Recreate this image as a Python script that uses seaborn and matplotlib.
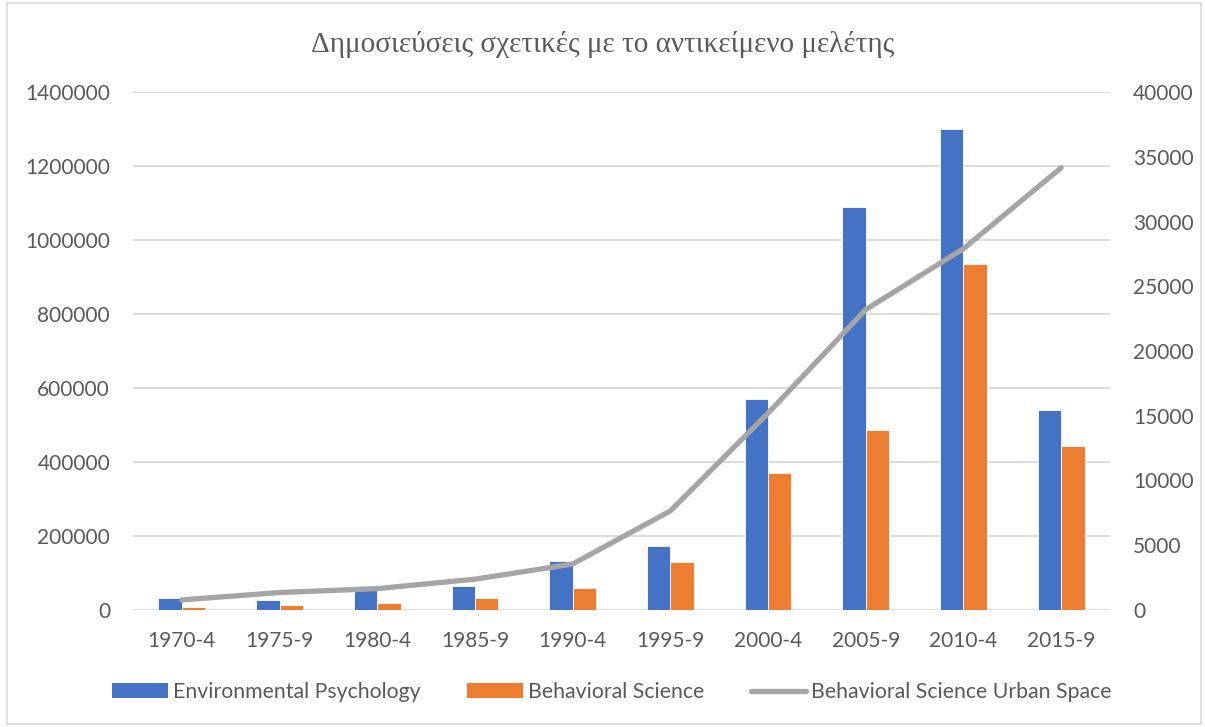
import numpy as np
import pandas as pd
import matplotlib
matplotlib.use("Agg")
import matplotlib.pyplot as plt
from matplotlib.patches import Patch, Rectangle
from matplotlib.lines import Line2D
from matplotlib.ticker import StrMethodFormatter
import seaborn as sns

# data
periods = ["1970-4", "1975-9", "1980-4", "1985-9", "1990-4",
           "1995-9", "2000-4", "2005-9", "2010-4", "2015-9"]
env_psychology = [32000, 27000, 66000, 65000, 133000,
                  174000, 571000, 1090000, 1299000, 540000]
behavioral_science = [7500, 12500, 20000, 33500, 60000,
                      129000, 370000, 486000, 934000, 442000]
behavioral_urban = [780, 1350, 1650, 2380, 3550,
                    7650, 15200, 23200, 27900, 34150]

series_names = ["Environmental Psychology", "Behavioral Science",
                "Behavioral Science Urban Space"]
title = "Δημοσιεύσεις σχετικές με το αντικείμενο μελέτης"

BLUE = "#4472C4"
ORANGE = "#ED7D31"
GRAY = "#A5A5A5"
TEXT = "#595959"
GRID = "#D9D9D9"

sns.set_theme(style="white")
plt.rcParams["font.family"] = ["Lato", "DejaVu Sans"]

df = pd.DataFrame({
    "period": periods * 2,
    "count": env_psychology + behavioral_science,
    "series": [series_names[0]] * len(periods) + [series_names[1]] * len(periods),
})

fig = plt.figure(figsize=(12.05, 7.27), dpi=100)
ax = fig.add_axes([133 / 1205, 1 - 610 / 727, 977 / 1205, 518 / 727])

sns.barplot(data=df, x="period", y="count", hue="series",
            palette=[BLUE, ORANGE], saturation=1, width=0.48, gap=0,
            edgecolor="white", linewidth=0.6, legend=False, ax=ax)

ax2 = ax.twinx()
sns.lineplot(x=np.arange(len(periods)), y=behavioral_urban, ax=ax2,
             color=GRAY, linewidth=3.8, solid_capstyle="round")

ax.set_xlim(-0.5, len(periods) - 0.5)
ax.set_ylim(0, 1400000)
ax.set_yticks(np.arange(0, 1400001, 200000))
ax.yaxis.set_major_formatter(StrMethodFormatter("{x:.0f}"))
ax2.set_ylim(0, 40000)
ax2.set_yticks(np.arange(0, 40001, 5000))
ax2.yaxis.set_major_formatter(StrMethodFormatter("{x:.0f}"))

ax.set_axisbelow(True)
ax.yaxis.grid(True, color=GRID, linewidth=1.3)
ax.xaxis.grid(False)
ax2.grid(False)

for a in (ax, ax2):
    for s in a.spines.values():
        s.set_visible(False)
    a.set_xlabel("")
    a.set_ylabel("")

ax.tick_params(axis="y", length=0, pad=16.5, labelsize=15, labelcolor=TEXT)
ax.tick_params(axis="x", length=0, pad=15, labelsize=15, labelcolor=TEXT)
ax2.tick_params(axis="y", length=0, pad=16.5, labelsize=15, labelcolor=TEXT)

fig.text(0.5, 1 - 45 / 727, title, ha="center", va="center",
         fontsize=21, color=TEXT, family=["Liberation Serif", "DejaVu Serif"])

handles = [
    Patch(facecolor=BLUE, edgecolor="none"),
    Patch(facecolor=ORANGE, edgecolor="none"),
    Line2D([0], [0], color=GRAY, linewidth=3.8, solid_capstyle="round"),
]
leg = fig.legend(handles, series_names, loc="center", ncol=3,
                 bbox_to_anchor=(0.508, 1 - 692 / 727), frameon=False,
                 fontsize=15.3, handlelength=2.6, handleheight=0.7,
                 handletextpad=0.25, columnspacing=2.2)
for t in leg.get_texts():
    t.set_color(TEXT)

fig.patches.append(Rectangle((7 / 1205, 3 / 727), 1194 / 1205, 721 / 727,
                             transform=fig.transFigure, fill=False,
                             edgecolor=GRID, linewidth=1.2))

fig.savefig("out.png", dpi=100)
